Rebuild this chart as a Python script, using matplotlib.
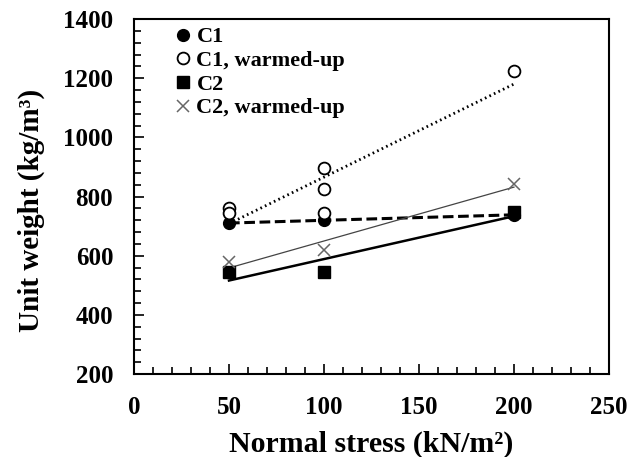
import matplotlib
matplotlib.use("Agg")
import matplotlib.pyplot as plt
import numpy as np
from matplotlib.ticker import MultipleLocator

plt.rcParams['font.family'] = ['Liberation Serif', 'DejaVu Serif']
plt.rcParams['font.weight'] = 'bold'

# data
c1_x = [50, 100, 200]
c1_y = [710, 720, 738]
c1w_x = [50, 50, 100, 100, 100, 200]
c1w_y = [760, 744, 896, 825, 744, 1224]
c2_x = [50, 100, 200]
c2_y = [545, 545, 748]
c2w_x = [50, 100, 200]
c2w_y = [579, 619, 842]


def trend(ax, x, y, **kw):
    x = np.array(x, dtype=float)
    m, b = np.polyfit(x, np.array(y, dtype=float), 1)
    xs = np.array([x.min(), x.max()])
    ax.plot(xs, m * xs + b, **kw)


fig = plt.figure(figsize=(6.39, 4.57), dpi=100)
ax = fig.add_axes([0.2097, 0.1816, 0.7433, 0.7768])

ax.plot(c1_x, c1_y, 'o', color='black', ms=8.5, label='C1', zorder=3)
ax.plot(c1w_x, c1w_y, 'o', mfc='white', mec='black', mew=1.3, ms=8.5,
        label='C1, warmed-up', zorder=3)
ax.plot(c2_x, c2_y, 's', color='black', ms=9, label='C2', zorder=3)
ax.plot(c2w_x, c2w_y, 'x', color='#666666', mew=1.1, ms=9,
        label='C2, warmed-up', zorder=3)

trend(ax, c1_x, c1_y, color='black', lw=2.2, ls=(0, (3.5, 1.5)))
trend(ax, c1w_x, c1w_y, color='black', lw=2.0, ls=(0, (0.6, 1.2)))
trend(ax, c2_x, c2_y, color='black', lw=1.8)
trend(ax, c2w_x, c2w_y, color='#444444', lw=0.9)

ax.set_xlim(0, 250)
ax.set_ylim(200, 1400)
ax.xaxis.set_major_locator(MultipleLocator(50))
ax.xaxis.set_minor_locator(MultipleLocator(10))
ax.yaxis.set_major_locator(MultipleLocator(200))
ax.yaxis.set_minor_locator(MultipleLocator(40))
ax.tick_params(which='both', direction='in', width=1.2, labelsize=18)
ax.tick_params(axis='x', which='both', pad=16)
ax.tick_params(axis='y', which='both', pad=15)
ax.tick_params(which='major', length=7)
ax.tick_params(which='minor', length=5)
for s in ax.spines.values():
    s.set_linewidth(1.5)

ax.set_xlabel('Normal stress (kN/m²)', fontsize=21.5, fontweight='bold', labelpad=8)
ax.set_ylabel('Unit weight (kg/m³)', fontsize=21, fontweight='bold', labelpad=13)
ax.yaxis.label.set_y(0.46)

ax.legend(loc='upper left', frameon=False, fontsize=16, handletextpad=0.1,
          handlelength=1.0, labelspacing=0.14, borderaxespad=0, borderpad=0,
          bbox_to_anchor=(0.08, 0.978))

fig.savefig('out.png', dpi=100)
